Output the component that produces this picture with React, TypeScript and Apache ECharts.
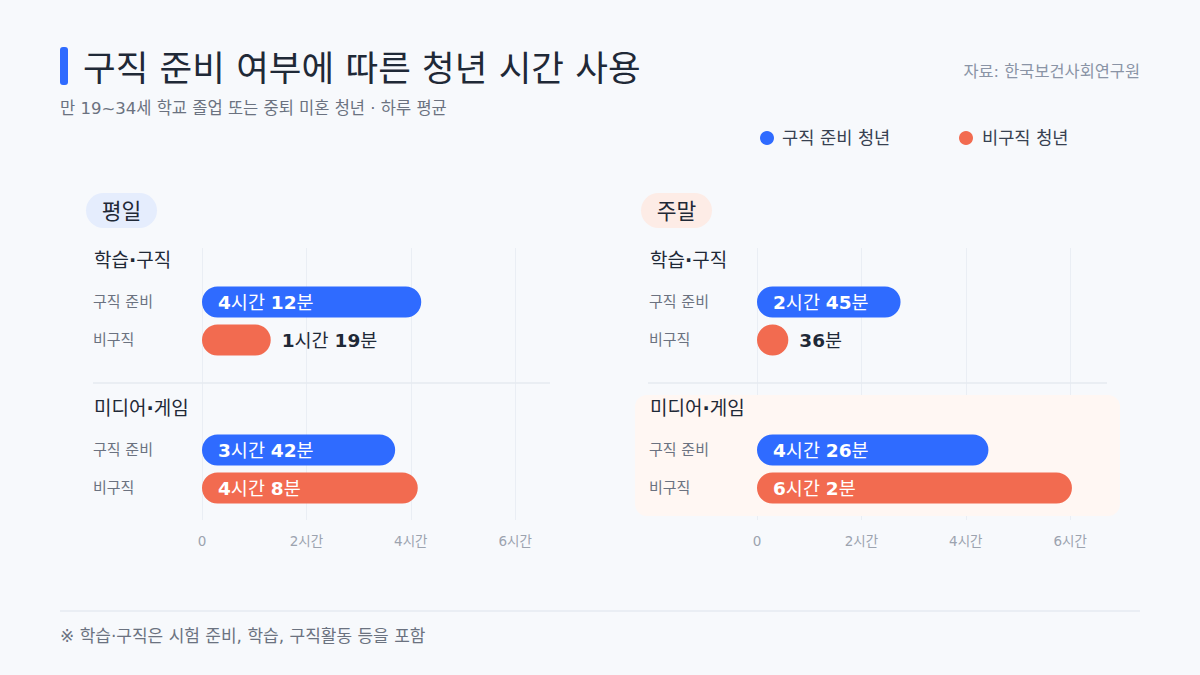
import React, { useEffect, useRef } from 'react';
import * as echarts from 'echarts';

const panels = ['평일', '주말'];
const groups = ['학습·구직', '미디어·게임'];
const rows = ['구직 준비', '비구직'];
// 하루 평균 분 단위, [구직 준비, 비구직]
const weekdayStudy = [252, 79];
const weekdayMedia = [222, 248];
const weekendStudy = [165, 36];
const weekendMedia = [266, 362];
const axisMax = 400;
const axisStep = 120;

const BLUE = '#2F6BFF';
const ORANGE = '#F26B50';
const DARK = '#1F2937';
const GRAY = '#6B7280';
const FONT = '"DejaVu Sans", "Noto Sans CJK KR", sans-serif';

const panelLeft = [202, 757];
const labelLeft = [93, 649];
const plotW = 348;
const groupTop = [283, 431];
const headerY = [260, 408];

const fmt = (m: number) => {
  const h = Math.floor(m / 60);
  const mm = m % 60;
  return h > 0 ? `{n|${h}}{u|시간} {n|${mm}}{u|분}` : `{n|${mm}}{u|분}`;
};

const rich = (color: string) => ({
  n: { fontSize: 18.5, fontWeight: 'bold', color, fontFamily: FONT },
  u: { fontSize: 18.5, color, fontFamily: FONT },
});

const barItem = (v: number, color: string) => {
  const inside = v >= 120;
  return {
    value: v,
    itemStyle: { color, borderRadius: 16 },
    label: {
      show: true,
      position: inside ? 'insideLeft' : 'right',
      distance: inside ? 16 : 11,
      fontSize: 18.5,
      fontFamily: FONT,
      color: inside ? '#fff' : DARK,
      formatter: fmt(v),
      rich: rich(inside ? '#fff' : DARK),
    },
  };
};

const text = (x: number, y: number, t: string, size: number, fill: string, extra: any = {}) => ({
  type: 'text',
  x,
  y,
  z: 10,
  style: {
    text: t,
    fill,
    fontSize: size,
    fontFamily: FONT,
    align: 'left',
    verticalAlign: 'middle',
    ...extra,
  },
});

const App: React.FC = () => {
  const ref = useRef<HTMLDivElement>(null);

  useEffect(() => {
    if (!ref.current) return;
    document.body.style.margin = '0';
    const chart = echarts.init(ref.current, undefined, { renderer: 'svg' });

    const panelData = [
      [weekdayStudy, weekdayMedia],
      [weekendStudy, weekendMedia],
    ];

    const grid: any[] = [];
    const xAxis: any[] = [];
    const yAxis: any[] = [];
    const series: any[] = [];

    panels.forEach((_, p) => {
      const bgIndex = grid.length;
      grid.push({ left: panelLeft[p], top: 248, width: plotW, height: 272 });
      xAxis.push({
        gridIndex: bgIndex,
        type: 'value',
        min: 0,
        max: axisMax,
        interval: axisStep,
        axisLine: { show: false },
        axisTick: { show: false },
        splitLine: { show: true, showMaxLine: false, lineStyle: { color: '#EAEEF4', width: 1 } },
        axisLabel: {
          margin: 14,
          fontSize: 13.5,
          color: '#9CA3AF',
          fontFamily: FONT,
          showMaxLabel: false,
          formatter: (v: number) => (v === 0 ? '0' : `${v / 60}시간`),
        },
      });
      yAxis.push({ gridIndex: bgIndex, type: 'value', show: false });

      groups.forEach((__, g) => {
        const gi = grid.length;
        grid.push({ left: panelLeft[p], top: groupTop[g], width: plotW, height: 76 });
        xAxis.push({ gridIndex: gi, type: 'value', min: 0, max: axisMax, show: false });
        yAxis.push({
          gridIndex: gi,
          type: 'category',
          data: rows,
          inverse: true,
          z: 5,
          axisLine: { show: false },
          axisTick: { show: false },
          axisLabel: {
            align: 'left',
            margin: panelLeft[p] - labelLeft[p],
            fontSize: 15,
            color: GRAY,
            fontFamily: FONT,
          },
        });
        const vals = panelData[p][g];
        series.push({
          type: 'bar',
          xAxisIndex: gi,
          yAxisIndex: gi,
          barWidth: 31,
          z: 3,
          data: [barItem(vals[0], BLUE), barItem(vals[1], ORANGE)],
        });
      });
    });

    const graphic: any[] = [
      { type: 'rect', shape: { x: 60, y: 47, width: 8, height: 38, r: 3 }, style: { fill: BLUE }, z: 10 },
      text(83, 68, '구직 준비 여부에 따른 청년 시간 사용', 35.5, DARK),
      text(60, 108, '만 19~34세 학교 졸업 또는 중퇴 미혼 청년 · 하루 평균', 16.5, GRAY),
      text(1140, 71, '자료: 한국보건사회연구원', 16.4, '#8A94A6', { align: 'right' }),
      { type: 'circle', shape: { cx: 767, cy: 138, r: 7 }, style: { fill: BLUE }, z: 10 },
      text(782, 138, '구직 준비 청년', 17.6, '#374151'),
      { type: 'circle', shape: { cx: 966, cy: 138, r: 7 }, style: { fill: ORANGE }, z: 10 },
      text(982, 138, '비구직 청년', 17.6, '#374151'),
      { type: 'rect', shape: { x: 86, y: 193, width: 71, height: 35, r: 17.5 }, style: { fill: '#E5EDFD' }, z: 10 },
      text(121.5, 211, panels[0], 21.5, DARK, { align: 'center' }),
      { type: 'rect', shape: { x: 641, y: 193, width: 71, height: 35, r: 17.5 }, style: { fill: '#FDECE6' }, z: 10 },
      text(676.5, 211, panels[1], 21.5, DARK, { align: 'center' }),
      // 주말 미디어·게임 강조
      { type: 'rect', shape: { x: 635, y: 395, width: 485, height: 121, r: 12 }, style: { fill: '#FFF7F3' }, z: 1 },
      { type: 'line', shape: { x1: 93, y1: 383, x2: 550, y2: 383 }, style: { stroke: '#E6EAF0', lineWidth: 1.5 }, z: 2 },
      { type: 'line', shape: { x1: 648, y1: 383, x2: 1107, y2: 383 }, style: { stroke: '#E6EAF0', lineWidth: 1.5 }, z: 2 },
      { type: 'line', shape: { x1: 60, y1: 611, x2: 1140, y2: 611 }, style: { stroke: '#DDE3EC', lineWidth: 1 }, z: 2 },
      text(60, 636, '※ 학습·구직은 시험 준비, 학습, 구직활동 등을 포함', 17, GRAY),
    ];
    panels.forEach((_, p) => {
      groups.forEach((name, g) => {
        const [a, b] = name.split('·');
        graphic.push(
          text(labelLeft[p] + 1, headerY[g], `{t|${a}}{d|·}{t|${b}}`, 19, DARK, {
            rich: {
              t: { fontSize: 19, fontFamily: FONT, fill: DARK },
              d: { fontSize: 19, fontFamily: FONT, fontWeight: 'bold', fill: DARK },
            },
          })
        );
      });
    });

    chart.setOption({
      animation: false,
      backgroundColor: '#F7F9FC',
      grid,
      xAxis,
      yAxis,
      series,
      graphic,
    });

    return () => chart.dispose();
  }, []);

  return <div ref={ref} style={{ position: 'absolute', left: 0, top: 0, width: 1200, height: 675 }} />;
};

export default App;
